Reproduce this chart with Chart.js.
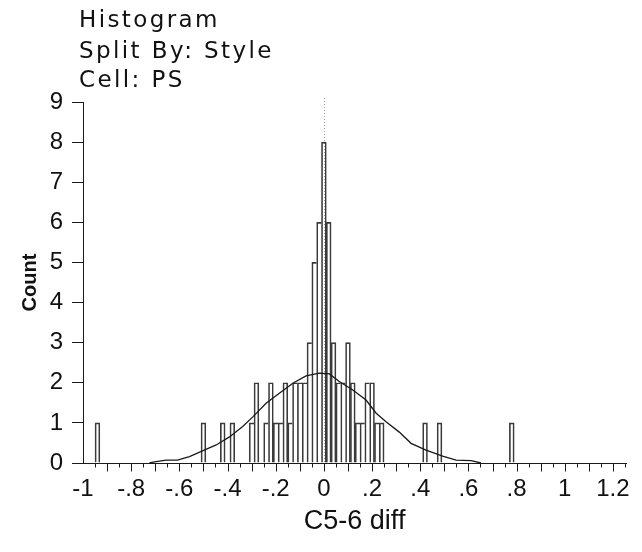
<!DOCTYPE html>
<html>
<head>
<meta charset="utf-8">
<script src="https://cdn.jsdelivr.net/npm/chart.js@4.4.1/dist/chart.umd.min.js"></script>
<style>
  html, body { margin: 0; padding: 0; background: #fff; }
  #wrap { width: 642px; height: 552px; }
</style>
</head>
<body>
<div id="wrap"><canvas id="chart" width="642" height="552"></canvas></div>
<script>
// Header text
const titleLines = ['Histogram', 'Split By: Style', 'Cell: PS'];
const xAxisTitle = 'C5-6 diff';
const yAxisTitle = 'Count';

// Histogram bins (bin centre, bin width 0.02) and counts
const binCenters = [-0.94, -0.50, -0.42, -0.38,
  -0.30, -0.28, -0.24, -0.22, -0.20, -0.18, -0.16, -0.14, -0.12, -0.10, -0.08, -0.06, -0.04, -0.02,
  0.00, 0.02, 0.04, 0.06, 0.08, 0.10, 0.12, 0.14, 0.16, 0.18, 0.20, 0.22, 0.24,
  0.42, 0.48, 0.78];
const binCounts = [1, 1, 1, 1,
  1, 2, 1, 2, 1, 1, 2, 1, 2, 2, 2, 3, 5, 6,
  8, 6, 3, 2, 2, 3, 2, 1, 1, 2, 2, 1, 1,
  1, 1, 1];

// Fitted density curve, in count units
const curveX = [-0.724, -0.703, -0.655, -0.608, -0.558, -0.504, -0.447, -0.392, -0.337, -0.295,
  -0.240, -0.185, -0.129, -0.074, -0.019, 0.023, 0.064, 0.120, 0.175, 0.217,
  0.258, 0.313, 0.362, 0.424, 0.493, 0.549, 0.611, 0.652];
const curveY = [0.00, 0.03, 0.07, 0.07, 0.16, 0.30, 0.45, 0.65, 0.91, 1.15,
  1.49, 1.74, 1.99, 2.17, 2.24, 2.22, 2.03, 1.82, 1.57, 1.24,
  1.03, 0.77, 0.49, 0.32, 0.17, 0.07, 0.06, 0.00];

// Axis ticks
const xTickValues = [-1, -0.8, -0.6, -0.4, -0.2, 0, 0.2, 0.4, 0.6, 0.8, 1, 1.2];
const xTickLabels = ['-1', '-.8', '-.6', '-.4', '-.2', '0', '.2', '.4', '.6', '.8', '1', '1.2'];
const yTickValues = [0, 1, 2, 3, 4, 5, 6, 7, 8, 9];

const INK = '#1a1a1a';
const countByBin = new Map(binCenters.map((c, i) => [Math.round(c * 100), binCounts[i]]));

// Header lines, axis titles, zero reference line and the x tick marks
const decorations = {
  id: 'decorations',
  beforeDatasetsDraw(chart) {
    const { ctx, chartArea, scales } = chart;
    const x0 = Math.round(scales.x.getPixelForValue(0)) + 0.5;
    ctx.save();
    ctx.strokeStyle = '#9a9a9a';
    ctx.lineWidth = 1;
    ctx.setLineDash([1, 2]);
    ctx.beginPath();
    ctx.moveTo(x0, chartArea.top - 4);
    ctx.lineTo(x0, chartArea.bottom);
    ctx.stroke();
    ctx.restore();
  },
  afterDraw(chart) {
    const { ctx, chartArea, scales } = chart;
    ctx.save();
    // tick marks under the x axis: long every 0.1, short at the half steps
    ctx.strokeStyle = INK;
    ctx.lineWidth = 1;
    const y0 = Math.round(chartArea.bottom) + 0.5;
    for (let k = -19; k <= 25; k++) {
      const px = Math.round(scales.x.getPixelForValue(k * 0.05)) + 0.5;
      const len = (k % 2 === 0) ? 8 : 4;
      ctx.beginPath();
      ctx.moveTo(px, y0);
      ctx.lineTo(px, y0 + len);
      ctx.stroke();
    }
    // header
    ctx.fillStyle = '#111';
    ctx.font = '23px "DejaVu Sans"';
    ctx.letterSpacing = '2.4px';
    ctx.textAlign = 'left';
    ctx.textBaseline = 'alphabetic';
    const baselines = [27, 58, 87];
    titleLines.forEach((t, i) => ctx.fillText(t, 79, baselines[i]));
    ctx.letterSpacing = '0px';
    // x axis title
    ctx.font = '27px "Liberation Sans"';
    ctx.textAlign = 'center';
    ctx.fillText(xAxisTitle, (chartArea.left + chartArea.right) / 2, 529);
    // y axis title
    ctx.font = 'bold 20px "Liberation Sans"';
    ctx.translate(30, (chartArea.top + chartArea.bottom) / 2);
    ctx.rotate(-Math.PI / 2);
    ctx.textBaseline = 'middle';
    ctx.fillText(yAxisTitle, 0, 0);
    ctx.restore();
  }
};

new Chart(document.getElementById('chart'), {
  data: {
    datasets: [
      {
        type: 'line',
        order: 1,
        data: curveX.map((x, i) => ({ x, y: curveY[i] })),
        borderColor: INK,
        borderWidth: 1.3,
        pointRadius: 0,
        tension: 0,
        fill: false
      },
      {
        type: 'bar',
        order: 2,
        data: binCenters.map((x, i) => ({ x, y: binCounts[i] })),
        backgroundColor: 'rgba(0,0,0,0)',
        borderColor: '#3a3a3a',
        borderSkipped: false,
        borderWidth: (c) => {
          const key = Math.round(binCenters[c.dataIndex] * 100);
          const next = countByBin.get(key + 2) || 0;
          return { left: 1, top: 1, bottom: 0, right: next < binCounts[c.dataIndex] ? 1 : 0 };
        },
        categoryPercentage: 1,
        barPercentage: 1
      }
    ]
  },
  options: {
    responsive: false,
    animation: false,
    devicePixelRatio: 1,
    layout: { padding: { top: 102, right: 15, left: 0, bottom: 0 } },
    plugins: { legend: { display: false }, tooltip: { enabled: false }, title: { display: false } },
    scales: {
      x: {
        type: 'linear',
        offset: false,
        min: -1,
        max: 1.255,
        afterFit: (s) => { s.height = 89; },
        afterBuildTicks: (s) => { s.ticks = xTickValues.map(v => ({ value: v })); },
        grid: { display: false, drawTicks: false, offset: false },
        border: { display: true, color: INK, width: 1 },
        ticks: {
          autoSkip: false,
          maxRotation: 0,
          padding: 12,
          color: '#111',
          font: { family: 'Liberation Sans', size: 24 },
          callback: (v, i) => xTickLabels[i]
        }
      },
      y: {
        type: 'linear',
        min: 0,
        max: 9,
        afterFit: (s) => { s.width = 83; },
        afterBuildTicks: (s) => { s.ticks = yTickValues.map(v => ({ value: v })); },
        grid: { display: true, drawOnChartArea: false, drawTicks: true, tickLength: 11, color: INK },
        border: { display: true, color: INK, width: 1 },
        ticks: {
          padding: 9,
          color: '#111',
          font: { family: 'Liberation Sans', size: 24 },
          callback: (v) => String(v)
        }
      }
    }
  },
  plugins: [decorations]
});
</script>
</body>
</html>
